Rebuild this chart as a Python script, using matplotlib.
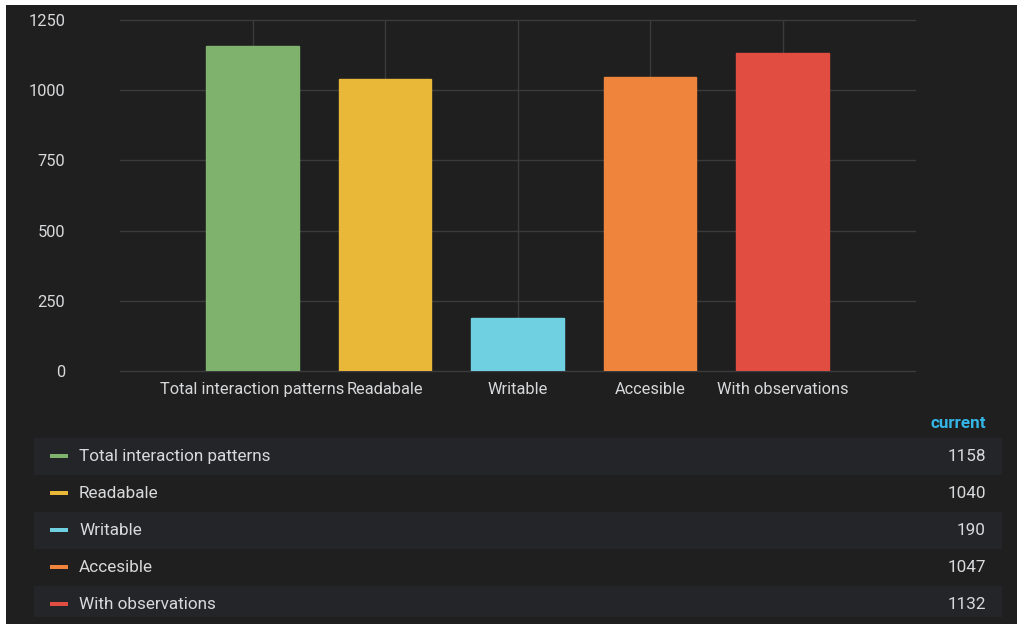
import matplotlib.pyplot as plt
from matplotlib.patches import Rectangle

# series shown in the panel
labels = ["Total interaction patterns", "Readabale", "Writable", "Accesible", "With observations"]
values = [1158, 1040, 190, 1047, 1132]
colors = ["#7eb26d", "#eab839", "#6ed0e0", "#ef843c", "#e24d42"]
yticks = [0, 250, 500, 750, 1000, 1250]

W, H = 1017, 624
BG = "#1f1f20"
STRIPE = "#242528"
TEXT = "#d8d9da"
GRID = "#3b3b3e"
FS = 12.3
AXFS = 11.8

plt.rcParams['font.family'] = ['Roboto', 'DejaVu Sans']

fig = plt.figure(figsize=(W / 100, H / 100), dpi=100, facecolor="white")


def fx(x):
    return x / W


def fy(y):
    # pixel rows counted from the top
    return 1 - y / H


# dark panel
fig.patches.append(Rectangle((fx(6), 0), 1 - fx(6), fy(5), transform=fig.transFigure,
                             facecolor=BG, edgecolor="none", zorder=0))

# bar plot area
ax = fig.add_axes([fx(120), fy(371), fx(915) - fx(120), fy(20) - fy(371)])
ax.set_zorder(5)
ax.set_facecolor("none")
x = list(range(len(labels)))
for i in x:
    ax.axvline(i, color=GRID, lw=1, zorder=1)
for t in yticks:
    ax.axhline(t, color=GRID, lw=1, zorder=1, clip_on=False)
ax.bar(x, values, width=0.7, color=colors, edgecolor=colors, linewidth=1, zorder=2)
ax.set_xlim(-1, len(labels))
ax.set_ylim(0, 1250)
ax.set_yticks(yticks)
ax.set_xticks(x)
ax.set_xticklabels(labels)
for s in ax.spines.values():
    s.set_visible(False)
# pads are in points (1 pt = 100/72 px here)
ax.tick_params(axis="y", length=0, pad=55 * 0.72, labelsize=AXFS, labelcolor=TEXT)
ax.tick_params(axis="x", length=0, pad=8, labelsize=AXFS, labelcolor=TEXT)

# legend table with current values
fig.text(fx(986), fy(423), "current", color="#33b5e5", fontsize=FS, fontweight="bold",
         ha="right", va="center")
row_h = 37
for i, (name, val, c) in enumerate(zip(labels, values, colors)):
    yc = 456 + i * row_h
    if i % 2 == 0:
        bottom = min(yc + 19, 617)
        fig.patches.append(Rectangle((fx(34), fy(bottom)), fx(1002) - fx(34), fy(yc - 18) - fy(bottom),
                                     transform=fig.transFigure, facecolor=STRIPE,
                                     edgecolor="none", zorder=1))
    fig.patches.append(Rectangle((fx(50), fy(yc + 2)), fx(18), fy(yc - 2) - fy(yc + 2),
                                 transform=fig.transFigure, facecolor=c,
                                 edgecolor="none", zorder=2))
    fig.text(fx(79), fy(yc + 0.5), name, color=TEXT, fontsize=FS, ha="left", va="center")
    fig.text(fx(986), fy(yc + 0.5), str(val), color=TEXT, fontsize=FS, ha="right", va="center")

fig.savefig("out.png", dpi=100, facecolor="white")
